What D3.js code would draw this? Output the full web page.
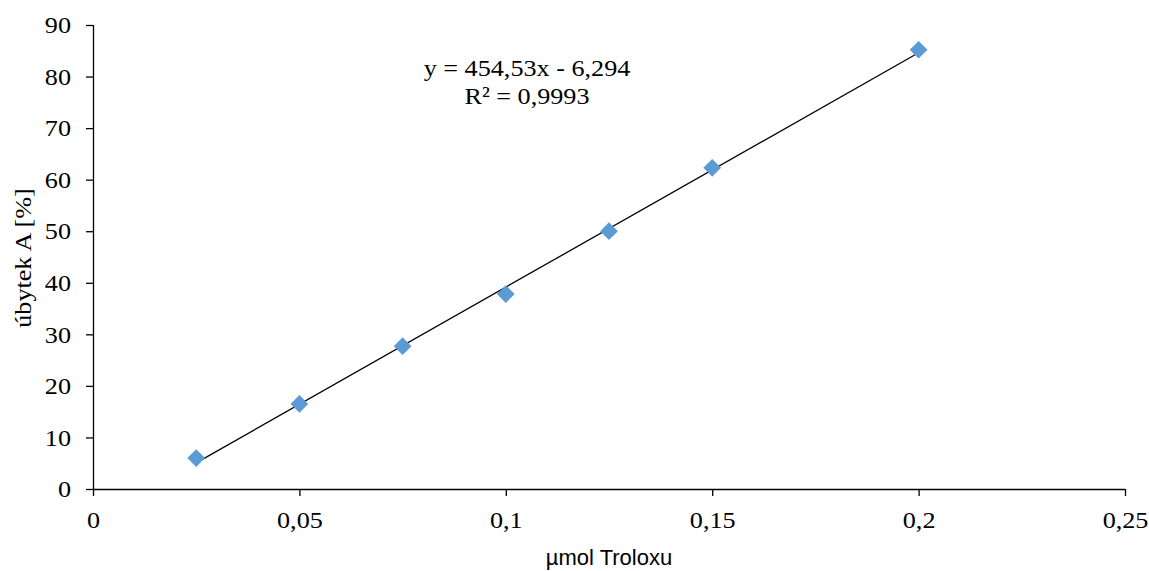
<!DOCTYPE html>
<html><head><meta charset="utf-8">
<script src="https://cdn.jsdelivr.net/npm/d3@7"></script>
<style>body{margin:0;background:#fff}</style>
</head><body>
<svg id="c" width="1149" height="571"></svg>
<script>
const xVals = [0.025, 0.05, 0.075, 0.1, 0.125, 0.15, 0.2];
const yVals = [6.0, 16.5, 27.7, 37.8, 50.0, 62.3, 85.2];
const xTicks = [0, 0.05, 0.1, 0.15, 0.2, 0.25];
const xTickLabels = ["0", "0,05", "0,1", "0,15", "0,2", "0,25"];
const yTicks = [0, 10, 20, 30, 40, 50, 60, 70, 80, 90];
const slope = 454.53, intercept = -6.294;
const eqLines = ["y = 454,53x - 6,294", "R² = 0,9993"];

const svg = d3.select("#c");
const x = d3.scaleLinear().domain([0, 0.25]).range([93, 1125]);
const y = d3.scaleLinear().domain([0, 90]).range([489, 25]);
const serif = "Liberation Serif, Times New Roman, serif";
const FS = 24, STRETCH = 1.09;

function stretch(sel) {
  sel.each(function () {
    const w = this.getComputedTextLength();
    d3.select(this).attr("textLength", w * STRETCH).attr("lengthAdjust", "spacingAndGlyphs");
  });
}

const xa = svg.append("g").attr("transform", "translate(0,489)")
  .call(d3.axisBottom(x).tickValues(xTicks).tickFormat((d, i) => xTickLabels[i]).tickSize(7).tickPadding(15));
const ya = svg.append("g").attr("transform", "translate(93,0)")
  .call(d3.axisLeft(y).tickValues(yTicks).tickSize(7).tickPadding(15));
[xa, ya].forEach(a => {
  a.attr("font-family", serif).attr("font-size", FS);
  a.select(".domain").attr("stroke", "#000").attr("stroke-width", 1.3);
  a.selectAll(".tick line").attr("stroke", "#000").attr("stroke-width", 1.3);
  a.selectAll(".tick text").attr("fill", "#000").call(stretch);
});
ya.select(".domain").attr("d", "M0.5," + y(90) + "V" + y(0));
xa.select(".domain").attr("d", "M" + x(0) + ",0.5H" + x(0.25));

// trendline
const x0 = d3.min(xVals), x1 = d3.max(xVals);
svg.append("line")
  .attr("x1", x(x0)).attr("y1", y(slope * x0 + intercept))
  .attr("x2", x(x1)).attr("y2", y(slope * x1 + intercept))
  .attr("stroke", "#000").attr("stroke-width", 1.3);

// points
const sym = d3.symbol().type(d3.symbolDiamond2).size(200);
svg.selectAll("path.pt").data(xVals).enter().append("path")
  .attr("class", "pt")
  .attr("d", sym)
  .attr("transform", (d, i) => `translate(${x(d)},${y(yVals[i])})`)
  .attr("fill", "#5B9BD5");

// equation
const eq = svg.append("g").attr("font-family", serif).attr("font-size", FS).attr("text-anchor", "middle");
eq.append("text").attr("x", 527).attr("y", 75.5).text(eqLines[0]);
eq.append("text").attr("x", 527).attr("y", 104).text(eqLines[1]);
eq.selectAll("text").call(stretch);

// axis titles
svg.append("text").attr("x", 609).attr("y", 565).attr("text-anchor", "middle")
  .attr("font-family", "Liberation Sans, Arial, sans-serif").attr("font-size", 22).text("µmol Troloxu");
svg.append("text").attr("transform", "translate(31,258) rotate(-90)").attr("text-anchor", "middle")
  .attr("font-family", serif).attr("font-size", FS).text("úbytek A [%]").call(stretch);
</script>
</body></html>
